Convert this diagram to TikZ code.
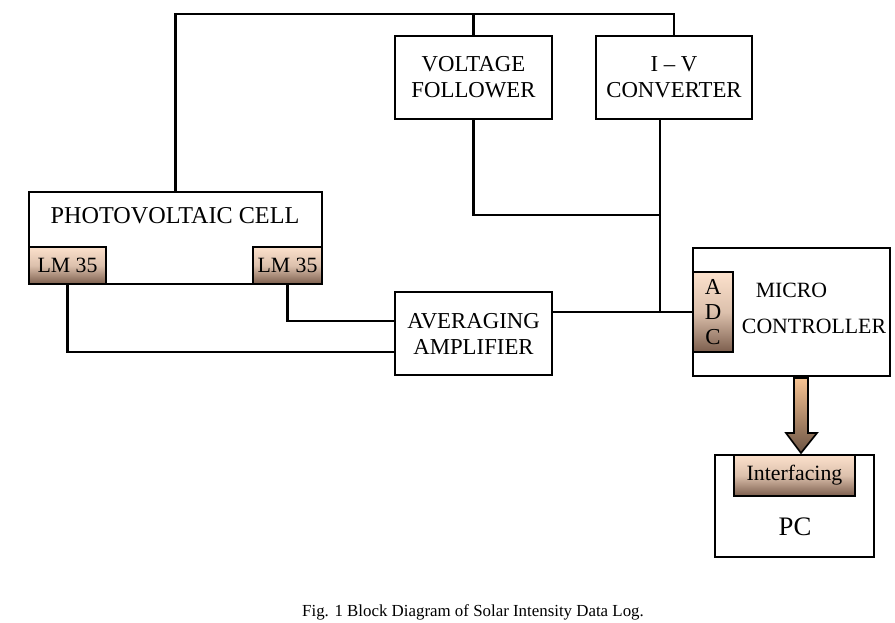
\documentclass[tikz,border=0pt]{standalone}
\usepackage{fontspec}
\setmainfont{Liberation Serif}
\usetikzlibrary{calc}
\definecolor{peach}{HTML}{FCE1CC}
\definecolor{bark}{HTML}{7C5E4D}
\definecolor{apricot}{HTML}{F7C392}
\definecolor{umber}{HTML}{6C5444}

\begin{document}
\begin{tikzpicture}[x=0.025cm,y=-0.025cm,line width=1.6pt,
  blk/.style={draw,inner sep=1pt,align=center,font=\fontsize{16.2}{18.5}\selectfont},
  tag/.style={blk,top color=peach,bottom color=bark,middle color=peach!75!bark,
    font=\fontsize{15.5}{18}\selectfont}]
\useasboundingbox (0,0) rectangle (895,623);
% blocks
\node[blk,minimum width=7.325cm,minimum height=2.3cm] (pv) at (175.5,238) {};
\node[font=\fontsize{17.2}{19}\selectfont] (pvtxt) at (175,216) {PHOTOVOLTAIC CELL};
\node[tag,minimum width=1.925cm,minimum height=0.925cm] (lmL) at (67.5,265.5) {LM 35};
\node[tag,minimum width=1.725cm,minimum height=0.925cm] (lmR) at (287.5,265.5) {LM 35};
\node[blk,minimum width=3.925cm,minimum height=2.075cm] (vf) at (473.5,77.5) {VOLTAGE\\FOLLOWER};
\node[blk,minimum width=3.9cm,minimum height=2.075cm] (iv) at (674,77.5) {I -- V\\CONVERTER};
\node[blk,minimum width=3.925cm,minimum height=2.075cm] (avg) at (473.5,333.5) {AVERAGING\\AMPLIFIER};
\node[blk,minimum width=4.925cm,minimum height=3.2cm] (mc) at (791.5,312) {};
\node[tag,minimum width=1cm,minimum height=2cm,font=\fontsize{16.2}{17.5}\selectfont] (adc) at (713,312) {A\\D\\C};
\node[font=\fontsize{15.5}{18}\selectfont] (mctop) at (791.5,290) {MICRO};
\node[font=\fontsize{15.5}{18}\selectfont] (mcbot) at (814,326) {CONTROLLER};
\node[blk,minimum width=3.975cm,minimum height=2.55cm] (pc) at (794.5,506) {};
\node[tag,minimum width=3.025cm,minimum height=1.025cm] (intf) at (794.5,475.5) {Interfacing};
\node[font=\fontsize{19}{21}\selectfont] (pctxt) at (795,527) {PC};
% wires
\draw (pv.north) -- (pv.north |- 0,14) -| (iv.north);
\draw (vf.north) -- (vf.north |- 0,14);
\coordinate (jn) at ([xshift=-0.35cm]iv.south |- 0,215);
\draw (vf.south) |- (jn);
\draw ([xshift=-0.35cm]iv.south) -- (jn) -- (jn |- adc.west);
\draw (adc.west) -- (adc.west -| avg.east);
\draw (lmR.south) |- ([yshift=0.31cm]avg.west);
\draw (lmL.south) |- ([yshift=-0.46cm]avg.west);
% block arrow to the PC
\shade[top color=apricot,bottom color=umber,draw,line width=1.2pt]
  (794,378) -- (808,378) -- (808,433) -- (817,433) -- (801,453) -- (786,433) -- (794,433) -- cycle;
\node[font=\fontsize{12}{14}\selectfont] (cap) at (473,612) {Fig. 1 Block Diagram of Solar Intensity Data Log.};
\end{tikzpicture}
\end{document}
